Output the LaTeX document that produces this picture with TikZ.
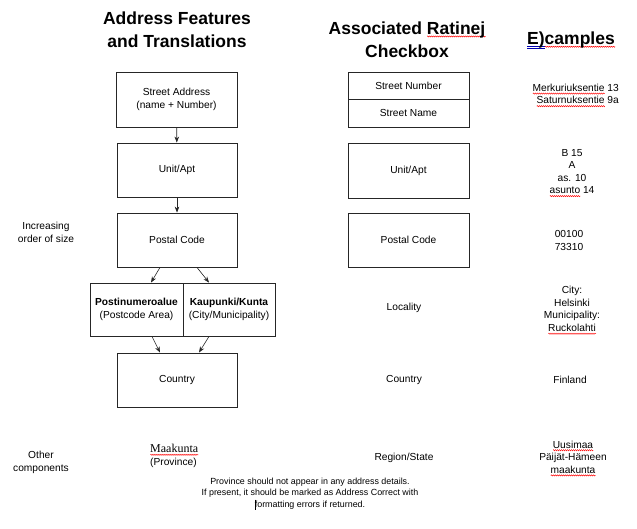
\documentclass[tikz,border=0pt]{standalone}
\usepackage{fontspec}
\setmainfont{Liberation Sans}
\newfontfamily\serifont{Liberation Serif}
\usetikzlibrary{arrows.meta,calc,decorations.pathmorphing}
\newsavebox\sqbox
\newcommand\spl[1]{\sbox\sqbox{#1}\rlap{\raisebox{-2.2pt}[0pt][0pt]{\tikz[x=1pt,y=1pt,baseline=0pt]\draw[red,line width=0.45pt,decorate,decoration={zigzag,amplitude=0.6pt,segment length=2pt}] (0,0)--(\the\wd\sqbox,0);}}\usebox\sqbox}
\newcommand\gram[1]{\sbox\sqbox{#1}\rlap{\raisebox{-3.4pt}[0pt][0pt]{\tikz[x=1pt,y=1pt,baseline=0pt]{\draw[blue!70!black,line width=0.5pt] (0,0)--(\the\wd\sqbox,0) (0,1.5)--(\the\wd\sqbox,1.5);}}}\usebox\sqbox}
\newcommand\bodyf{\fontsize{10.2}{12.6}\selectfont}
\newcommand\smallf{\fontsize{8.9}{11.7}\selectfont}
\newcommand\titlef{\fontsize{17.5}{23}\selectfont\bfseries}
\begin{document}
\begin{tikzpicture}[x=1pt,y=-1pt,
  box/.style={draw=black!85,line width=0.9pt,align=center,inner sep=0pt,font=\bodyf},
  lbl/.style={align=center,inner sep=0pt,font=\bodyf},
  ttl/.style={align=center,inner sep=0pt,font=\titlef},
  arr/.style={-{Stealth[length=6pt,width=4.6pt]},line width=0.6pt,draw=black!85}]
\useasboundingbox (0,0) rectangle (637,529);

% titles
\node[ttl] (t1) at (177,29.5) {Address Features\\and Translations};
\node[ttl] (t2) at (407,39.5) {Associated \spl{Ratinej}\\Checkbox};
\node[ttl] (t3) at (571,40) {\gram{E)}\spl{camples}};

% left column
\node[box,minimum width=121,minimum height=55] (sa) at (176.5,99.5) {Street Address\\(name + Number)};
\node[box,minimum width=120,minimum height=54] (ua) at (177,170) {Unit/Apt};
\node[box,minimum width=120,minimum height=54] (pc) at (177,240) {Postal Code};
\node[box,minimum width=93,minimum height=53] (pa) at (136.5,309.5) {\textbf{Postinumeroalue}\\(Postcode Area)};
\node[box,minimum width=92,minimum height=53] (ck) at (229,309.5) {\textbf{Kaupunki/Kunta}\\(City/Municipality)};
\node[box,minimum width=120,minimum height=54] (co) at (177,380) {Country};

\draw[arr] (sa) -- (ua);
\draw[arr] (ua) -- (pc);
\draw[arr] ($(pc.south)+(-17,0)$) -- ($(pa.north)+(14.5,0)$);
\draw[arr] ($(pc.south)+(20,0)$) -- ($(ck.north)+(-20,0)$);
\draw[arr] ($(pa.south)+(15.5,0)$) -- ($(co.north)+(-17,0)$);
\draw[arr] ($(ck.south)+(-20,0)$) -- ($(co.north)+(22,0)$);

% side labels
\node[lbl] (inc) at (46,232.5) {Increasing\\order of size};
\node[lbl] (oth) at (41,462.5) {Other\\components};
\node[anchor=west,inner sep=0pt,font=\serifont\fontsize{12}{14}\selectfont] (mk) at (150,448.5) {\spl{Maakunta}};
\node[anchor=west,inner sep=0pt,font=\bodyf] (pr) at (150,463) {(Province)};
\node[lbl,font=\smallf] (note) at (310,493.5) {Province should not appear in any address details.\\If present, it should be marked as Address Correct with\\formatting errors if returned.};
\draw[line width=0.6pt] (255,499.5) -- (255,510);

% middle column
\node[box,minimum width=121,minimum height=27] (sn) at (408.5,85.5) {Street Number};
\node[box,minimum width=121,minimum height=28] (sm) at (408.5,113) {Street Name};
\node[box,minimum width=121,minimum height=55] (ua2) at (408.5,170.5) {Unit/Apt};
\node[box,minimum width=121,minimum height=54] (pc2) at (408.5,240) {Postal Code};
\node[lbl] (loc) at (404,308) {Locality};
\node[lbl] (co2) at (404,380) {Country};
\node[lbl] (rs) at (404,458) {Region/State};

% examples column
\node[lbl,align=right,anchor=east] (ex1) at (619,94) {\spl{Merkuriuksentie} 13\\\spl{Saturnuksentie} 9a};
\node[lbl] (ex2) at (572,171.5) {B 15\\A\\as. 10\\\spl{asunto} 14};
\node[lbl] (ex3) at (569,240.5) {00100\\73310};
\node[lbl] (ex4) at (572,309) {City:\\Helsinki\\Municipality:\\\spl{Ruckolahti}};
\node[lbl] (ex5) at (570,380) {Finland};
\node[lbl] (ex6) at (573,457) {\spl{Uusimaa}\\Päijät-Hämeen\\\spl{maakunta}};
\end{tikzpicture}
\end{document}
